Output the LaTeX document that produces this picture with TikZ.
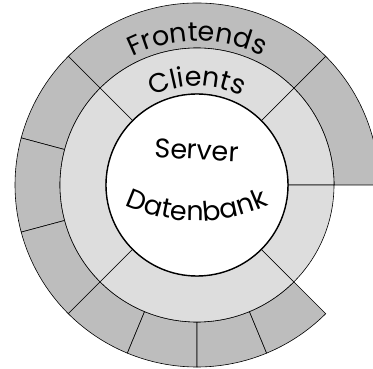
\documentclass[tikz,border=0pt]{standalone}
\usepackage{fontspec}
\setmainfont{Poppins}
\usetikzlibrary{decorations.text}
\definecolor{ringdark}{RGB}{189,189,189}
\definecolor{ringlight}{RGB}{221,221,221}

\begin{document}
\begin{tikzpicture}[x=1pt, y=1pt]

      \tikzstyle{outer_seg} = [fill=ringdark, draw=black, line width=0.6pt]
      \tikzstyle{mid_seg} = [fill=ringlight, draw=black, line width=0.6pt]
      \tikzstyle{core_style} = [circle, draw=black, fill=white, line width=1.4pt, minimum size=182pt, inner sep=0pt]
      \tikzstyle{label_style} = [font=\fontsize{27}{27}\selectfont, inner sep=0pt]

      \useasboundingbox (-197,-184) rectangle (176,185);
      \clip (-197,-184) rectangle (176,185);

      % Frontends
      \draw[outer_seg] (0:137) arc[start angle=0, end angle=45, radius=137] -- (45:182) arc[start angle=45, end angle=0, radius=182] -- cycle;
      \draw[outer_seg] (45:137) arc[start angle=45, end angle=135, radius=137] -- (135:182) arc[start angle=135, end angle=45, radius=182] -- cycle;
      \draw[outer_seg] (135:137) arc[start angle=135, end angle=165, radius=137] -- (165:182) arc[start angle=165, end angle=135, radius=182] -- cycle;
      \draw[outer_seg] (165:137) arc[start angle=165, end angle=195, radius=137] -- (195:182) arc[start angle=195, end angle=165, radius=182] -- cycle;
      \draw[outer_seg] (195:137) arc[start angle=195, end angle=225, radius=137] -- (225:182) arc[start angle=225, end angle=195, radius=182] -- cycle;
      \draw[outer_seg] (225:137) arc[start angle=225, end angle=247.5, radius=137] -- (247.5:182) arc[start angle=247.5, end angle=225, radius=182] -- cycle;
      \draw[outer_seg] (247.5:137) arc[start angle=247.5, end angle=270, radius=137] -- (270:182) arc[start angle=270, end angle=247.5, radius=182] -- cycle;
      \draw[outer_seg] (270:137) arc[start angle=270, end angle=292.5, radius=137] -- (292.5:182) arc[start angle=292.5, end angle=270, radius=182] -- cycle;
      \draw[outer_seg] (292.5:137) arc[start angle=292.5, end angle=315, radius=137] -- (315:182) arc[start angle=315, end angle=292.5, radius=182] -- cycle;

      % Clients
      \draw[mid_seg] (0:91) arc[start angle=0, end angle=45, radius=91] -- (45:137) arc[start angle=45, end angle=0, radius=137] -- cycle;
      \draw[mid_seg] (45:91) arc[start angle=45, end angle=135, radius=91] -- (135:137) arc[start angle=135, end angle=45, radius=137] -- cycle;
      \draw[mid_seg] (135:91) arc[start angle=135, end angle=225, radius=91] -- (225:137) arc[start angle=225, end angle=135, radius=137] -- cycle;
      \draw[mid_seg] (225:91) arc[start angle=225, end angle=315, radius=91] -- (315:137) arc[start angle=315, end angle=225, radius=137] -- cycle;
      \draw[mid_seg] (315:91) arc[start angle=315, end angle=360, radius=91] -- (360:137) arc[start angle=360, end angle=315, radius=137] -- cycle;

      % Server / Datenbank
      \node[core_style] (core) at (0,0) {};
      \node[label_style, rotate=-3] (server) at (0,35) {Server};

      \path[decorate, decoration={text along path, text align=center,
          text={|\fontsize{27}{27}\selectfont|Frontends}}]
        (150:144) arc[start angle=150, end angle=30, radius=144];
      \path[decorate, decoration={text along path, text align=center,
          text={|\fontsize{27}{27}\selectfont|Clients}}]
        (150:99) arc[start angle=150, end angle=30, radius=99];
      \path[decorate, decoration={text along path, text align=center,
          text={|\fontsize{27}{27}\selectfont|Datenbank}}]
        ([shift={(0,132)}]230:168) arc[start angle=230, end angle=310, radius=168];
    \end{tikzpicture}
\end{document}
